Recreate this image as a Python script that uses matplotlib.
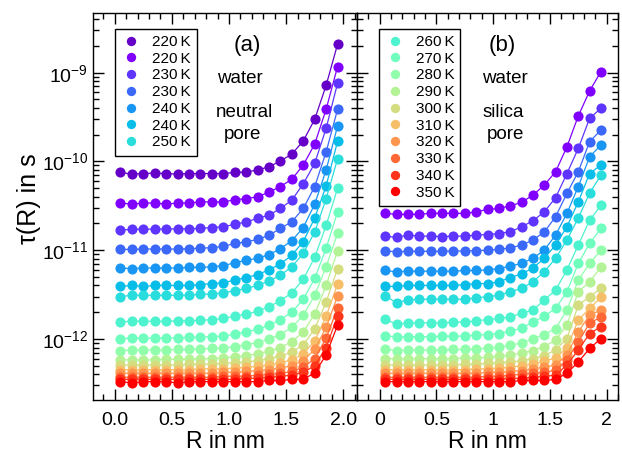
import matplotlib
matplotlib.use('Agg')
import matplotlib.pyplot as plt
from matplotlib.lines import Line2D
from matplotlib.ticker import MultipleLocator, LogLocator, FuncFormatter, NullFormatter
import numpy as np

plt.rcParams['font.family'] = ['Liberation Sans', 'DejaVu Sans']
plt.rcParams['mathtext.fontset'] = 'custom'
plt.rcParams['mathtext.rm'] = 'Liberation Sans'
plt.rcParams['mathtext.it'] = 'Liberation Sans:italic'

# radial position of the bins (nm)
r = [0.05, 0.15, 0.25, 0.35, 0.45, 0.55, 0.65, 0.75, 0.85, 0.95,
     1.05, 1.15, 1.25, 1.35, 1.45, 1.55, 1.65, 1.75, 1.85, 1.95]

# (a) neutral pore, tau in ps
a220_1 = [75, 72, 73, 74, 73, 72, 73, 73, 73, 73, 75, 76, 80, 87, 101, 121, 170, 298, 720, 2090]
a220_2 = [34, 33, 34, 34, 33, 34, 34, 35, 35, 35, 37, 38, 40, 45, 52, 63, 91, 157, 387, 1170]
a230_1 = [16.8, 17.2, 17.2, 17.3, 17.3, 17.4, 17.4, 17.6, 18.0, 18.3, 19.6, 20.8, 22.8, 24.8, 29.5, 36.6, 56, 95, 236, 760]
a230_2 = [10.2, 10.2, 10.3, 10.3, 10.3, 10.3, 10.4, 10.5, 10.7, 11.0, 11.9, 12.4, 13.2, 14.7, 17.6, 20.9, 29.5, 52, 128, 386]
a240_1 = [6.3, 6.2, 6.3, 6.3, 6.3, 6.3, 6.4, 6.4, 6.5, 6.7, 7.2, 7.7, 8.1, 8.9, 10.4, 12.8, 18, 33, 80, 251]
a240_2 = [3.9, 4.0, 3.9, 4.0, 4.0, 4.0, 4.0, 4.1, 4.2, 4.3, 4.6, 4.9, 5.3, 6.0, 7.0, 8.8, 12.5, 23, 53, 169]
a250 = [3.0, 3.1, 3.1, 3.1, 3.1, 3.1, 3.1, 3.2, 3.2, 3.3, 3.5, 3.7, 4.0, 4.5, 5.2, 6.5, 9.2, 16, 38, 107]
a260 = [1.56, 1.58, 1.58, 1.58, 1.58, 1.6, 1.6, 1.62, 1.65, 1.7, 1.8, 1.9, 2.05, 2.3, 2.7, 3.3, 4.7, 8.3, 19, 50]
a270 = [1.01, 1.02, 1.02, 1.02, 1.03, 1.03, 1.04, 1.05, 1.06, 1.08, 1.13, 1.2, 1.28, 1.42, 1.65, 2.0, 2.8, 4.8, 10.5, 27]
a280 = [0.74, 0.75, 0.75, 0.75, 0.75, 0.76, 0.76, 0.77, 0.78, 0.79, 0.82, 0.86, 0.91, 0.99, 1.12, 1.35, 1.85, 3.1, 6.5, 15.5]
a290 = [0.58, 0.58, 0.58, 0.58, 0.59, 0.59, 0.59, 0.6, 0.6, 0.61, 0.63, 0.65, 0.68, 0.73, 0.8, 0.93, 1.2, 1.9, 4.0, 9.8]
a300 = [0.51, 0.51, 0.51, 0.51, 0.51, 0.51, 0.52, 0.52, 0.52, 0.53, 0.54, 0.55, 0.57, 0.6, 0.64, 0.71, 0.86, 1.3, 2.6, 6.2]
a310 = [0.45, 0.45, 0.45, 0.45, 0.45, 0.45, 0.45, 0.46, 0.46, 0.46, 0.47, 0.48, 0.49, 0.51, 0.54, 0.58, 0.68, 0.95, 1.8, 4.15]
a320 = [0.41, 0.41, 0.41, 0.41, 0.41, 0.41, 0.41, 0.41, 0.41, 0.42, 0.42, 0.43, 0.44, 0.45, 0.47, 0.5, 0.57, 0.76, 1.35, 3.04]
a330 = [0.37, 0.37, 0.37, 0.37, 0.37, 0.37, 0.37, 0.37, 0.37, 0.38, 0.38, 0.38, 0.39, 0.4, 0.41, 0.43, 0.48, 0.6, 1.02, 2.24]
a340 = [0.35, 0.35, 0.35, 0.35, 0.35, 0.35, 0.35, 0.35, 0.35, 0.35, 0.35, 0.36, 0.36, 0.37, 0.38, 0.39, 0.42, 0.5, 0.8, 1.81]
a350 = [0.33, 0.32, 0.33, 0.33, 0.33, 0.32, 0.33, 0.33, 0.33, 0.33, 0.33, 0.33, 0.33, 0.34, 0.34, 0.35, 0.35, 0.415, 0.66, 1.43]

# (b) silica pore, tau in ps
b220 = [26, 25.3, 25.3, 25.4, 26, 26, 26, 26, 27, 28.8, 29.5, 31.6, 34.5, 41.7, 54, 76.5, 146, 325, 622, 1030]
b230_1 = [14.4, 13.9, 14.8, 14.4, 14.4, 14.2, 14.4, 14.4, 14.8, 15.0, 15.4, 16.1, 18.3, 21.4, 27, 39, 73, 140, 306, 397]
b230_2 = [9.8, 9.6, 9.7, 9.7, 9.7, 9.7, 9.8, 9.8, 9.9, 10.0, 10.2, 10.6, 11.4, 13, 16, 23.8, 43.7, 76.5, 167, 226]
b240_1 = [5.9, 5.7, 5.8, 5.8, 5.8, 5.8, 5.8, 5.9, 5.9, 6.0, 6.2, 6.6, 7.1, 8.1, 10, 14.8, 26, 52, 113, 153]
b240_2 = [3.9, 3.9, 4.0, 4.0, 4.0, 4.0, 4.0, 4.1, 4.2, 4.2, 4.4, 4.9, 5.4, 6.3, 8.1, 11.4, 18.4, 35, 73, 91]
b250 = [3.04, 2.55, 2.75, 2.8, 2.8, 2.8, 2.8, 2.8, 2.9, 3.0, 3.1, 3.4, 3.7, 4.4, 5.7, 8.1, 13, 23, 44, 70]
b260 = [1.66, 1.46, 1.52, 1.52, 1.52, 1.52, 1.54, 1.55, 1.6, 1.65, 1.7, 1.77, 1.94, 2.11, 2.74, 3.55, 6.0, 11.4, 21.8, 32]
b270 = [1.09, 1.05, 1.06, 1.06, 1.06, 1.07, 1.07, 1.08, 1.1, 1.12, 1.15, 1.22, 1.32, 1.55, 1.8, 2.21, 3.4, 7.1, 11.9, 17.6]
b280 = [0.76, 0.74, 0.75, 0.75, 0.75, 0.75, 0.76, 0.76, 0.77, 0.79, 0.81, 0.85, 0.9, 1.0, 1.12, 1.31, 2.11, 4.6, 7.1, 10]
b290 = [0.6, 0.6, 0.6, 0.6, 0.6, 0.6, 0.6, 0.61, 0.61, 0.62, 0.64, 0.66, 0.69, 0.74, 0.82, 0.97, 1.43, 3.4, 4.4, 6.5]
b300 = [0.51, 0.51, 0.51, 0.51, 0.51, 0.51, 0.51, 0.52, 0.52, 0.53, 0.54, 0.55, 0.57, 0.6, 0.65, 0.75, 1.01, 2.4, 2.98, 3.71]
b310 = [0.45, 0.45, 0.45, 0.45, 0.45, 0.45, 0.45, 0.45, 0.46, 0.46, 0.47, 0.48, 0.5, 0.52, 0.56, 0.61, 0.79, 1.63, 2.21, 2.94]
b320 = [0.41, 0.41, 0.41, 0.41, 0.41, 0.41, 0.41, 0.41, 0.41, 0.42, 0.42, 0.43, 0.44, 0.46, 0.48, 0.51, 0.66, 1.2, 1.86, 2.11]
b330 = [0.37, 0.37, 0.37, 0.37, 0.37, 0.37, 0.37, 0.37, 0.37, 0.38, 0.38, 0.39, 0.4, 0.41, 0.42, 0.445, 0.58, 0.93, 1.5, 1.77]
b340 = [0.35, 0.35, 0.35, 0.35, 0.35, 0.35, 0.35, 0.35, 0.35, 0.35, 0.35, 0.36, 0.36, 0.37, 0.38, 0.39, 0.51, 0.75, 1.15, 1.37]
b350 = [0.33, 0.33, 0.33, 0.33, 0.33, 0.33, 0.33, 0.33, 0.33, 0.33, 0.33, 0.33, 0.34, 0.34, 0.34, 0.35, 0.41, 0.55, 0.78, 1.01]

labels_a = ['220\u2009K', '220\u2009K', '230\u2009K', '230\u2009K', '240\u2009K', '240\u2009K', '250\u2009K']
labels_b = ['260\u2009K', '270\u2009K', '280\u2009K', '290\u2009K', '300\u2009K',
            '310\u2009K', '320\u2009K', '330\u2009K', '340\u2009K', '350\u2009K']

curves_a = [a220_1, a220_2, a230_1, a230_2, a240_1, a240_2, a250, a260, a270,
            a280, a290, a300, a310, a320, a330, a340, a350]
curves_b = [b220, b230_1, b230_2, b240_1, b240_2, b250, b260, b270,
            b280, b290, b300, b310, b320, b330, b340, b350]

colors = ['#6400c8'] + [plt.cm.rainbow(i / 15) for i in range(16)]

fig = plt.figure(figsize=(6.22, 4.53), dpi=100)
ax1 = fig.add_axes([93 / 622, 53 / 453, 264 / 622, 387 / 453])
ax2 = fig.add_axes([357 / 622, 53 / 453, 261 / 622, 387 / 453])

ms = 7.3
for i, c in enumerate(curves_a):
    y = np.array(c) * 1e-12
    ax1.plot(r, y, '-', color=colors[i], lw=0.9)
    ax1.plot(r, y, 'o', color=colors[i], ms=ms, mec='none')

for i, c in enumerate(curves_b):
    y = np.array(c) * 1e-12
    ax2.plot(r, y, '-', color=colors[i + 1], lw=0.9)
    ax2.plot(r, y, 'o', color=colors[i + 1], ms=ms, mec='none')


def sci(v, pos):
    e = int(round(np.log10(v)))
    return r'$10^{%d}$' % e


for ax in (ax1, ax2):
    ax.set_yscale('log')
    ax.set_ylim(2.05e-13, 4.7e-9)
    ax.xaxis.set_major_locator(MultipleLocator(0.5))
    ax.xaxis.set_minor_locator(MultipleLocator(0.1))
    ax.yaxis.set_major_locator(LogLocator(base=10, numticks=20))
    ax.yaxis.set_minor_locator(LogLocator(base=10, subs=np.arange(2, 10), numticks=20))
    ax.yaxis.set_minor_formatter(NullFormatter())
    ax.tick_params(which='both', direction='in', top=True, right=True, labelsize=14, width=1)
    ax.tick_params(which='major', length=8)
    ax.tick_params(which='minor', length=4)
    ax.tick_params(axis='x', pad=8.5)
    for s in ax.spines.values():
        s.set_linewidth(1.0)
    ax.set_xlabel('R in nm', fontsize=16.5, labelpad=1)

ax1.set_xlim(-0.19, 2.12)
ax2.set_xlim(-0.2, 2.1)
ax1.yaxis.set_major_formatter(FuncFormatter(sci))
ax2.yaxis.set_major_formatter(NullFormatter())
ax1.xaxis.set_major_formatter(FuncFormatter(lambda v, p: '%.1f' % v))
ax2.xaxis.set_major_formatter(FuncFormatter(lambda v, p: '%g' % v))
ax1.set_ylabel('\u03c4(R) in s', fontsize=18)
ax1.yaxis.set_label_coords(-0.197, 0.52)

h_a = [Line2D([], [], ls='none', marker='o', ms=ms * 0.92, color=colors[i], mec='none') for i in range(7)]
h_b = [Line2D([], [], ls='none', marker='o', ms=ms * 0.92, color=colors[i + 7], mec='none') for i in range(10)]
for ax, h, lab in ((ax1, h_a, labels_a), (ax2, h_b, labels_b)):
    leg = ax.legend(h, lab, loc='upper left', bbox_to_anchor=(0.084, 0.959), borderaxespad=0,
                    fontsize=11, handlelength=1.26, handletextpad=0.74, labelspacing=0.18,
                    borderpad=0.4, fancybox=False, framealpha=1, edgecolor='black')
    leg.get_frame().set_linewidth(1.0)

ax1.text(0.583, 0.917, '(a)', transform=ax1.transAxes, ha='center', va='center', fontsize=16)
ax1.text(0.557, 0.832, 'water', transform=ax1.transAxes, ha='center', va='center', fontsize=13.5)
ax1.text(0.572, 0.742, 'neutral', transform=ax1.transAxes, ha='center', va='center', fontsize=13.5)
ax1.text(0.568, 0.685, 'pore', transform=ax1.transAxes, ha='center', va='center', fontsize=13.5)
ax2.text(0.556, 0.917, '(b)', transform=ax2.transAxes, ha='center', va='center', fontsize=16)
ax2.text(0.567, 0.832, 'water', transform=ax2.transAxes, ha='center', va='center', fontsize=13.5)
ax2.text(0.559, 0.742, 'silica', transform=ax2.transAxes, ha='center', va='center', fontsize=13.5)
ax2.text(0.567, 0.685, 'pore', transform=ax2.transAxes, ha='center', va='center', fontsize=13.5)

fig.savefig('out.png', dpi=100)
